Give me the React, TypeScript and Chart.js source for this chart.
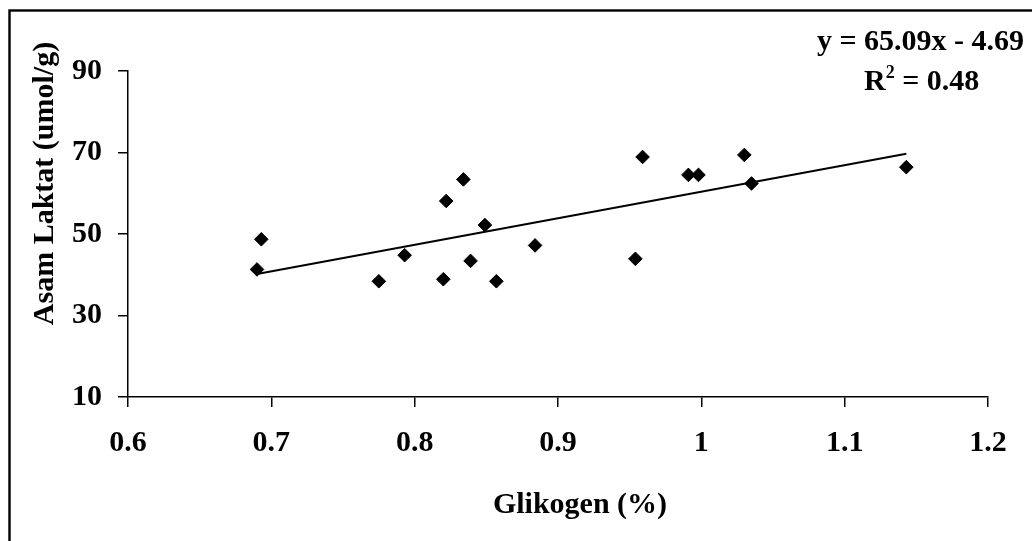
import React, { useEffect, useRef } from 'react';
import { Chart, registerables } from 'chart.js';

Chart.register(...registerables);

// Data
const glikogen = [0.690, 0.693, 0.775, 0.793, 0.820, 0.822, 0.834, 0.839, 0.849, 0.857, 0.884, 0.954, 0.959, 0.991, 0.998, 1.030, 1.035, 1.143];
const asamLaktat = [41.3, 48.7, 38.4, 44.8, 38.9, 58.1, 63.4, 43.4, 52.2, 38.4, 47.2, 43.9, 68.9, 64.5, 64.5, 69.4, 62.4, 66.4];
const trendX = [0.690, 1.143];
const trendY = [40.2, 69.7];

const xTickLabels = ['0.6', '0.7', '0.8', '0.9', '1', '1.1', '1.2'];
const yTickLabels = ['10', '30', '50', '70', '90'];

const xTitle = 'Glikogen (%)';
const yTitle = 'Asam Laktat (umol/g)';
const equationText = 'y = 65.09x - 4.69';
const r2Main = 'R';
const r2Sup = '2';
const r2Rest = ' = 0.48';

const FONT = '"Liberation Serif", "Times New Roman", serif';

const overlayPlugin = {
  id: 'overlay',
  afterDraw(chart: any) {
    const ctx = chart.ctx as CanvasRenderingContext2D;
    ctx.save();
    // outer frame
    ctx.strokeStyle = '#000';
    ctx.lineWidth = 2.4;
    ctx.strokeRect(9.5, 10.5, 1300, 800);

    ctx.fillStyle = '#000';
    ctx.textBaseline = 'alphabetic';
    const big = `bold 30px ${FONT}`;
    const small = `bold 18px ${FONT}`;

    // axis titles
    ctx.font = big;
    ctx.textAlign = 'center';
    ctx.fillText(xTitle, 580, 513);
    ctx.save();
    ctx.translate(53, 183.5);
    ctx.rotate(-Math.PI / 2);
    ctx.fillText(yTitle, 0, 0);
    ctx.restore();

    // equation
    ctx.textAlign = 'right';
    ctx.fillText(equationText, 1024, 50);

    // R^2
    ctx.font = big;
    const wR = ctx.measureText(r2Main).width;
    const wRest = ctx.measureText(r2Rest).width;
    ctx.font = small;
    const wS = ctx.measureText(r2Sup).width;
    const total = wR + wS + wRest;
    const x0 = 921.7 - total / 2;
    ctx.textAlign = 'left';
    ctx.font = big;
    ctx.fillText(r2Main, x0, 90);
    ctx.font = small;
    ctx.fillText(r2Sup, x0 + wR, 77.5);
    ctx.font = big;
    ctx.fillText(r2Rest, x0 + wR + wS, 90);
    ctx.restore();
  },
};

export default function App() {
  const ref = useRef<HTMLCanvasElement | null>(null);

  useEffect(() => {
    if (!ref.current) return;
    const tickFont = { family: FONT, size: 30, weight: 'bold' as const };
    const chart = new Chart(ref.current, {
      type: 'scatter',
      data: {
        datasets: [
          {
            label: 'Trend',
            data: trendX.map((x, i) => ({ x, y: trendY[i] })),
            showLine: true,
            borderColor: '#000',
            borderWidth: 2,
            pointRadius: 0,
            fill: false,
          },
          {
            label: 'Data',
            data: glikogen.map((x, i) => ({ x, y: asamLaktat[i] })),
            pointStyle: 'rectRot',
            pointRadius: 6.8,
            pointBackgroundColor: '#000',
            pointBorderColor: '#000',
            pointBorderWidth: 1,
            showLine: false,
          },
        ],
      },
      options: {
        responsive: false,
        animation: false,
        devicePixelRatio: 1,
        layout: { padding: { left: 0, right: 44, top: 71, bottom: 0 } },
        plugins: {
          legend: { display: false },
          tooltip: { enabled: false },
          title: { display: false },
        },
        scales: {
          x: {
            type: 'linear',
            min: 0.6,
            max: 1.2,
            ticks: {
              stepSize: 0.1,
              color: '#000',
              font: tickFont,
              padding: 18,
              maxRotation: 0,
              autoSkip: false,
              callback: (_v: any, i: number) => xTickLabels[i] ?? '',
            },
            grid: {
              display: true,
              drawOnChartArea: false,
              drawTicks: true,
              tickLength: 10,
              color: '#000',
              lineWidth: 1.5,
            },
            border: { display: true, color: '#000', width: 1.5 },
            afterFit: (s: any) => {
              s.height = 144;
            },
          },
          y: {
            type: 'linear',
            min: 10,
            max: 90,
            ticks: {
              stepSize: 20,
              color: '#000',
              font: tickFont,
              padding: 16,
              autoSkip: false,
              callback: (_v: any, i: number) => yTickLabels[i] ?? '',
            },
            grid: {
              display: true,
              drawOnChartArea: false,
              drawTicks: true,
              tickLength: 10,
              color: '#000',
              lineWidth: 1.5,
            },
            border: { display: true, color: '#000', width: 1.5 },
            afterFit: (s: any) => {
              s.width = 128;
            },
          },
        },
      },
      plugins: [overlayPlugin],
    });
    return () => chart.destroy();
  }, []);

  return (
    <div style={{ position: 'fixed', left: 0, top: 0, width: 1032, height: 541, background: '#fff' }}>
      <canvas ref={ref} width={1032} height={541} style={{ display: 'block', width: 1032, height: 541 }} />
    </div>
  );
}
